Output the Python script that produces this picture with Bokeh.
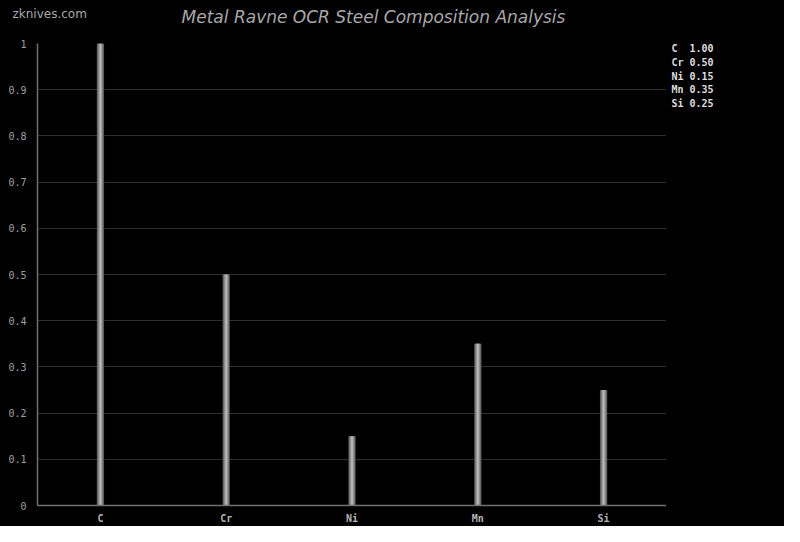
from bokeh.plotting import figure
from bokeh.layouts import column, row
from bokeh.models import FixedTicker, CustomJSTickFormatter, Range1d, ColumnDataSource
from bokeh.core.properties import value
from bokeh.embed import file_html
from bokeh.resources import INLINE

elements = ["C", "Cr", "Ni", "Mn", "Si"]
values = [1.00, 0.50, 0.15, 0.35, 0.25]
y_ticks = [0, 0.1, 0.2, 0.3, 0.4, 0.5, 0.6, 0.7, 0.8, 0.9, 1.0]
title_text = "Metal Ravne OCR Steel Composition Analysis"
site_text = "zknives.com"

W, H = 784, 526
HEAD = 35          # header strip height
MAIN_W = 666       # main chart width (frame right edge)
SIDE_W = W - MAIN_W
BODY_H = H - HEAD
TOP, BOTTOM = 8, 14
FRAME_H = BODY_H - TOP - BOTTOM
BLACK = {"background-color": "black"}


def blank(width, height, yspan):
    f = figure(width=width, height=height, x_range=Range1d(0, width), y_range=Range1d(yspan, 0),
               output_backend="svg", toolbar_location=None, x_axis_type=None, y_axis_type=None,
               background_fill_color="black", border_fill_color="black", outline_line_color=None,
               min_border=0, styles=BLACK)
    f.xgrid.grid_line_color = None
    f.ygrid.grid_line_color = None
    return f


# header with site name and title
header = blank(W, HEAD, HEAD)
header.text(x=[12], y=[13], text=[site_text], text_baseline="middle", text_align="left",
            text_color="#a8a8a8", text_font=value("DejaVu Sans"), text_font_size="12px")
header.text(x=[373], y=[16], text=[title_text], text_baseline="middle", text_align="center",
            text_color="#a8a8a8", text_font=value("DejaVu Sans"), text_font_style="italic",
            text_font_size="17px")

# main chart
p = figure(x_range=elements, y_range=Range1d(0, 1), width=MAIN_W, height=BODY_H,
           output_backend="svg", toolbar_location=None,
           background_fill_color="black", border_fill_color="black",
           outline_line_color=None, styles=BLACK,
           min_border_left=37, min_border_right=0, min_border_top=TOP, min_border_bottom=BOTTOM)

for w, c in [(0.058, "#555555"), (0.044, "#7a7a7a"), (0.028, "#9a9a9a"), (0.012, "#b8b8b8")]:
    p.vbar(x=elements, top=values, width=w, fill_color=c, line_color=None)

p.yaxis.ticker = FixedTicker(ticks=y_ticks)
p.yaxis.formatter = CustomJSTickFormatter(code="return String(Math.round(tick*10)/10);")
for ax in (p.xaxis, p.yaxis):
    ax.axis_line_color = "#707070"
    ax.axis_line_width = 1.5
    ax.major_tick_line_color = None
    ax.minor_tick_line_color = None
    ax.major_label_text_color = "#a0a0a0"
    ax.major_label_text_font = "DejaVu Sans Mono"
    ax.major_label_text_font_size = "10px"
    ax.major_label_standoff = 5
p.xaxis.major_label_text_font_style = "bold"
p.xaxis.major_label_text_color = "#b4b4b4"
p.xaxis.major_label_standoff = 1

p.xgrid.grid_line_color = None
p.ygrid.grid_line_color = "#2e2e2e"
p.ygrid.grid_line_width = 1

# value list on the right (its frame is aligned with the main chart's frame)
side = blank(SIDE_W, BODY_H, FRAME_H)
side.min_border_top = TOP
side.min_border_bottom = BOTTOM
NBSP = "\u00a0"
lines = [e + NBSP * (3 - len(e)) + f"{v:.2f}" for e, v in zip(elements, values)]
src = ColumnDataSource(dict(x=[5] * len(lines), y=[5 + 14 * i for i in range(len(lines))], t=lines))
side.text(x="x", y="y", text="t", source=src, text_baseline="middle", text_align="left",
          text_color="#dddddd", text_font=value("DejaVu Sans Mono"), text_font_style="bold",
          text_font_size="10px")

layout = column(header, row(p, side, spacing=0, styles=BLACK), spacing=0, styles=BLACK)
open("out.html", "w").write(file_html(layout, INLINE))
